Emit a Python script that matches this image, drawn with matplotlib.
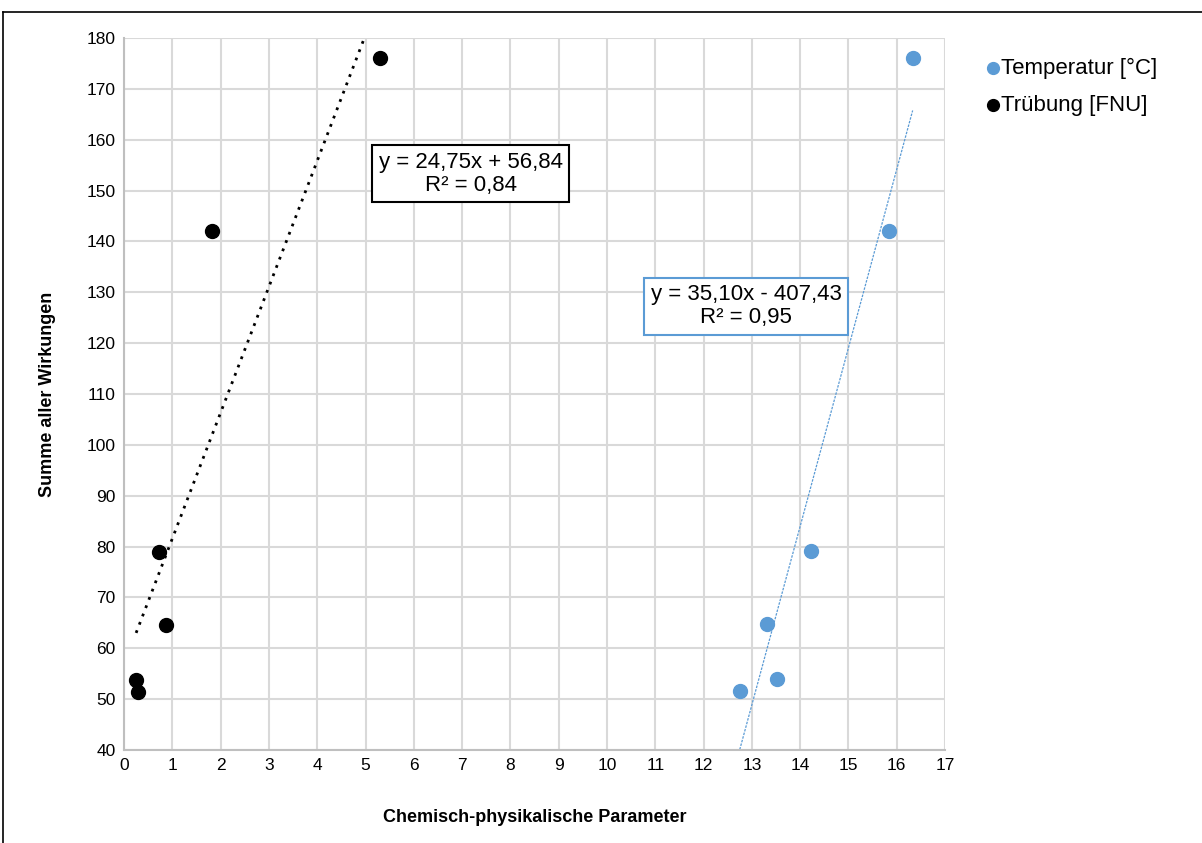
import numpy as np
import matplotlib.pyplot as plt
from matplotlib.lines import Line2D

plt.rcParams['font.family'] = ['Liberation Sans', 'DejaVu Sans']

# Trübung [FNU]
truebung_x = [5.3, 1.82, 0.72, 0.86, 0.25, 0.28]
truebung_y = [176, 142, 79, 64.6, 53.8, 51.5]
# Temperatur [°C]
temp_x = [16.33, 15.83, 14.23, 13.31, 13.52, 12.75]
temp_y = [176, 142, 79.2, 64.8, 54, 51.6]

# trendline coefficients (as printed in the chart)
tr_slope, tr_icpt, tr_r2 = 24.75, 56.84, 0.84
te_slope, te_icpt, te_r2 = 35.10, -407.43, 0.95

blue = '#5b9bd5'
grid_col = '#d9d9d9'

fig = plt.figure(figsize=(12.02, 8.43), dpi=100)
ax = fig.add_axes([0.1032, 0.1103, 0.6830, 0.8446])

ax.scatter(temp_x, temp_y, s=100, color=blue, zorder=3, label='Temperatur [°C]')
ax.scatter(truebung_x, truebung_y, s=100, color='black', zorder=3, label='Trübung [FNU]')

# linear trendlines
xs = np.linspace(min(truebung_x), max(truebung_x), 200)
ax.plot(xs, tr_slope * xs + tr_icpt, color='black', linestyle=(0, (1, 2.2)), lw=2.0, zorder=2)
xs = np.linspace(min(temp_x), max(temp_x), 200)
ax.plot(xs, te_slope * xs + te_icpt, color=blue, linestyle=(0, (2, 1)), lw=0.9, zorder=2)

ax.set_xlim(0, 17)
ax.set_ylim(40, 180)
ax.set_xticks(range(0, 18))
ax.set_yticks(range(40, 181, 10))
ax.grid(True, color=grid_col, lw=1.5)
ax.set_axisbelow(True)
for s in ['top', 'right']:
    ax.spines[s].set_visible(False)
for s in ['left', 'bottom']:
    ax.spines[s].set_color('#bfbfbf')
    ax.spines[s].set_linewidth(1.5)
ax.tick_params(length=0, labelsize=12.5, pad=6, labelcolor='black')

ax.set_xlabel('Chemisch-physikalische Parameter', fontsize=13, fontweight='bold', labelpad=26)
ax.set_ylabel('Summe aller Wirkungen', fontsize=13, fontweight='bold', labelpad=22)

# equation labels
ax.text(7.18, 153.3, 'y = 24,75x + 56,84\nR² = 0,84', ha='center', va='center',
        fontsize=16, linespacing=1.1,
        bbox=dict(boxstyle='square,pad=0.3', fc='white', ec='black', lw=1.5))
ax.text(12.88, 127.3, 'y = 35,10x - 407,43\nR² = 0,95', ha='center', va='center',
        fontsize=16, linespacing=1.1,
        bbox=dict(boxstyle='square,pad=0.3', fc='white', ec=blue, lw=1.5))

leg = ax.legend(loc='upper left', bbox_to_anchor=(1.02, 1.0), frameon=False,
                fontsize=16, handletextpad=-0.1, markerscale=0.85,
                labelspacing=0.7, handlelength=1.0)

# outer frame (top and left edges visible)
fig.add_artist(Line2D([0.0025, 1.0], [0.986, 0.986], color='black', lw=1.2, transform=fig.transFigure))
fig.add_artist(Line2D([0.0025, 0.0025], [0.0, 0.986], color='black', lw=1.2, transform=fig.transFigure))

fig.savefig('out.png', dpi=100)
